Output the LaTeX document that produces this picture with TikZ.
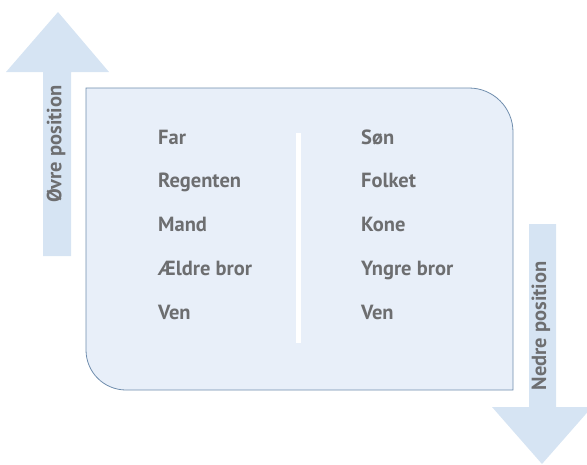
\documentclass[tikz,border=0pt]{standalone}
\usepackage{fontspec}
\setmainfont{PT Sans}
\usepackage{tikz}

\definecolor{arrowblue}{HTML}{D6E4F3}
\definecolor{boxfill}{HTML}{E8EFF9}
\definecolor{boxline}{HTML}{6F8DAD}
\definecolor{textgray}{HTML}{6D6E70}

\tikzset{
  word/.style={anchor=base west,inner sep=0pt,text=textgray,
    font=\bfseries\fontsize{20.5}{24}\selectfont},
  side/.style={rotate=90,inner sep=0pt,text=textgray,
    font=\bfseries\fontsize{20.5}{24}\selectfont}
}

\begin{document}
\begin{tikzpicture}[x=1pt,y=-1pt]
  \useasboundingbox (0,0) rectangle (587,464);
  \clip (0,0) rectangle (587,464);
  % arrows
  \fill[arrowblue] (43,256) -- (43,72) -- (6,72) -- (58,12) -- (109,72)
    -- (71,72) -- (71,256) -- cycle;
  \fill[arrowblue] (529,224) -- (529,407) -- (492,407) -- (542,464) -- (592,407)
    -- (556,407) -- (556,224) -- cycle;
  % box
  \draw[boxline,fill=boxfill,line width=0.8pt] (86,88) -- (469,88)
    arc [start angle=-90, end angle=0, radius=44] -- (513,390) -- (126,390)
    arc [start angle=90, end angle=180, radius=40] -- cycle;
  \draw[white,line width=5pt] (298,133) -- (298,343);
  % left column
  \node[word] (far) at (158,144) {Far};
  \node[word] (regent) at (158,187) {Regenten};
  \node[word] (mand) at (158,231) {Mand};
  \node[word] (aeldre) at (158,275) {Ældre bror};
  \node[word] (ven1) at (158,319) {Ven};
  % right column
  \node[word] (son) at (361,144) {Søn};
  \node[word] (folket) at (361,187) {Folket};
  \node[word] (kone) at (361,231) {Kone};
  \node[word] (yngre) at (361,275) {Yngre bror};
  \node[word] (ven2) at (361,319) {Ven};
  % positions
  \node[side] (upper) at (56,144) {Øvre position};
  \node[side] (lower) at (541,326) {Nedre position};
\end{tikzpicture}
\end{document}
